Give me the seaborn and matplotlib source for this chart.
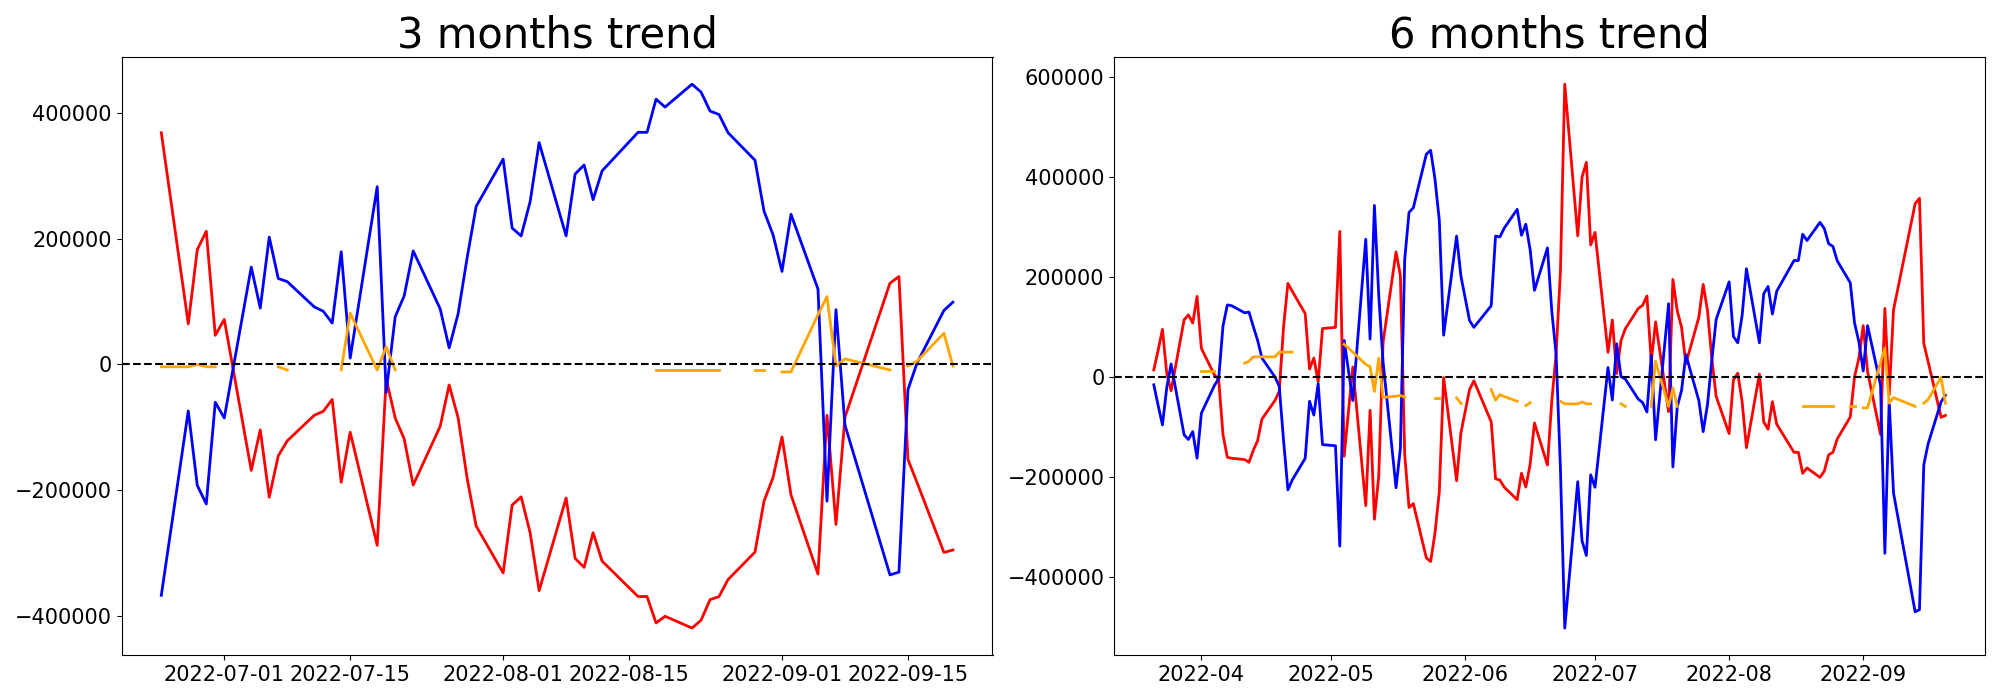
"""
3 months / 6 months net buying trend (red / blue / orange) with zero line.
"""

import numpy as np
import pandas as pd
import matplotlib
matplotlib.use("Agg")
import matplotlib.pyplot as plt
import seaborn as sns

nan = np.nan

# Trading days (KRX calendar, market holidays removed)
start_date = "2022-03-21"
end_date = "2022-09-20"
market_holidays = ["2022-05-05", "2022-06-01", "2022-06-06",
                   "2022-08-15", "2022-09-09", "2022-09-12"]

# ---- 6 months (126 trading days) ----
red_6m = [
    15000, 54000, 96000, 7000, -26800, 115000, 125000, 108700, 162000,
    58000, 5000, -4700, -115000, -160000, -162000, -164600, -170000, -146000, -126800,
    -83500, -46500, -28000, 101600, 188000, 172400, 127500, 16500, 38600, -8700, 97600,
    100000, 292000, -158000, 20500, -256700, -66000, -284000, -197600, 70000, 251000,
    204000, -154000, -260600, -252800, -361400, -368500, -311800, -229000, -800, -207000, -111000,
    -24400, -7000, -89000, -203000, -205500, -219700, -244900, -192000, -219700, -174000,
    -91300, -175600, -48000, 46500, 211800, 586600, 283100, 400800, 430200, 264900,
    290000, 50200, 114700, 7600, 73400, 97200, 137800, 144100, 162900, 31400, 110900,
    -68700, 196000, 133500, 100300, 27000, 120300, 186000, 133500, 37600, -38100,
    -112600, -4900, 8300, -48700, -140700, 6400, -89400, -103800, -48700, -93800, -150100,
    -150100, -192100, -181400, -200200, -187700, -155100, -150100, -123200, -79400, 1400, 38900,
    103400, 11400, -114400, 137800, -35600, 134700, 347600, 358200, 67700, 31400, -80000, -76200,
]
blue_6m = [
    -15000, -56000, -95300, -20000, 26800, -115000, -124400, -108700, -162000,
    -71700, -16500, -2400, 103100, 144900, 143300, 129100, 130700, 101600, 74000,
    38600, 800, -18100, -126800, -225200, -205500, -162000, -48000, -75600, -12600, -134600,
    -137000, -337800, 74000, -46500, 276400, 76400, 344000, 164500, 30700, -221000,
    -142500, 235400, 330000, 339400, 446500, 454300, 396800, 314200, 84300, 282700, 202400,
    113400, 100000, 143300, 282700, 281000, 298400, 336200, 284300, 306300, 255100,
    174000, 259000, 133000, 46500, -182000, -501800, -208900, -327200, -356600, -195100,
    -220100, 19600, -45500, 67200, 1500, -3500, -43600, -50500, -69300, 44000, -125000,
    147300, -179400, -59300, -26100, 45300, -46700, -108700, -54200, 34600, 116000,
    191100, 81600, 69100, 123500, 217400, 69100, 167400, 181800, 126700, 172400, 233700,
    233700, 286300, 273800, 310100, 297600, 267500, 261900, 233100, 189300, 108500, 71000,
    12700, 103500, -15400, -352200, -48000, -231400, -469300, -464900, -175100, -133100, -49200, -36100,
]
orange_6m = [
    nan, nan, nan, nan, nan, nan, nan, nan, nan,
    12600, 12600, nan, nan, nan, nan, 28300, 32300, 41000, 41000,
    41000, 41000, 50400, 50400, 50400, 50400, nan, nan, nan, nan, nan,
    nan, nan, 66000, 50400, 26000, 21300, -28300, 38600, -40000, -37800,
    -36200, -40000, nan, nan, nan, nan, -41000, -41000, nan, -41000, -52400,
    nan, nan, -24500, -45800, -34500, -38400, -47800, nan, -56400, -51000,
    nan, nan, nan, nan, -48000, -53100, -53100, -49300, -53100, -53100,
    nan, nan, nan, nan, -53100, -58100, nan, nan, nan, -58100, 32100,
    -58100, -21100, -58100, nan, nan, nan, nan, nan, nan, nan,
    nan, nan, nan, nan, nan, nan, nan, nan, nan, nan, nan,
    nan, -58100, -58100, -58100, -58100, -58100, -58100, nan, -58100, -58100, nan,
    -61200, -61200, 29600, 58400, -51800, -40500, -58100, nan, -51800, -44300, 200, -51800,
]

# ---- 3 months (last 60 trading days) ----
red_3m = [
    368000, 64500, 182200, 211600, 46300, 71400, -168400, -103900, -211000, -145200,
    -121400, -80800, -74500, -55700, -187200, -107700, -287300, -22600, -85100, -118300,
    -191600, -98300, -32600, -85100, -181000, -256700, -331200, -223500, -210300, -267300,
    -359300, -212200, -308000, -322400, -267300, -312400, -368700, -368700, -410700, -400000,
    -418800, -406300, -373700, -368700, -341800, -298000, -217200, -179700, -115200, -207200,
    -333000, -80800, -254200, -83900, 129000, 139600, -150900, -187200, -298600, -294800,
]
blue_3m = [
    -366800, -73900, -192200, -221600, -60100, -85100, 154600, 89500, 202200, 136500,
    131500, 91400, 84500, 65700, 179000, 10000, 282300, -44400, 75700, 108900,
    180300, 88300, 26300, 80800, 169600, 251000, 326100, 216600, 204100, 258500,
    352400, 204100, 302400, 316800, 261700, 307400, 368700, 368700, 421300, 408800,
    445100, 432600, 402500, 396900, 368100, 324300, 243500, 206000, 147700, 238500,
    119600, -217200, 87000, -96400, -334300, -329900, -40100, 1900, 85800, 98900,
]
orange_3m = [
    -3800, -3800, 0, -3800, -3800, nan, nan, nan, nan, -3800,
    -8800, nan, nan, nan, -8800, 81400, -8800, 28200, -8800, nan,
    nan, nan, nan, nan, nan, nan, nan, nan, nan, nan,
    nan, nan, nan, nan, nan, nan, nan, nan, -8800, -8800,
    -8800, -8800, -8800, -8800, nan, -8800, -8800, nan, -11900, -11900,
    78900, 107700, -2500, 8800, -8800, nan, -2500, 5000, 49500, -2500,
]

dates_6m = pd.bdate_range(start_date, end_date).drop(pd.to_datetime(market_holidays))
dates_3m = dates_6m[-60:]


def draw_trend(ax, dates, red, blue, orange, title):
    df = pd.DataFrame({"date": dates, "red": red, "blue": blue, "orange": orange})
    # orange has gaps: give each unbroken run its own unit so gaps stay open
    df["seg"] = df["orange"].isna().cumsum()

    sns.lineplot(data=df, x="date", y="red", color="red", linewidth=2, ax=ax)
    sns.lineplot(data=df, x="date", y="blue", color="blue", linewidth=2, ax=ax)
    sns.lineplot(data=df.dropna(subset=["orange"]), x="date", y="orange",
                 units="seg", estimator=None, color="orange", linewidth=2, ax=ax)
    ax.axhline(0, color="black", linestyle="--", linewidth=1.5)

    ax.set_title(title, fontsize=30)
    ax.set_xlabel("")
    ax.set_ylabel("")
    ax.tick_params(labelsize=15)


fig, axes = plt.subplots(1, 2, figsize=(20, 7), dpi=100)

draw_trend(axes[0], dates_3m, red_3m, blue_3m, orange_3m, "3 months trend")
draw_trend(axes[1], dates_6m, red_6m, blue_6m, orange_6m, "6 months trend")

plt.tight_layout()
plt.savefig("out.png")
plt.close()
